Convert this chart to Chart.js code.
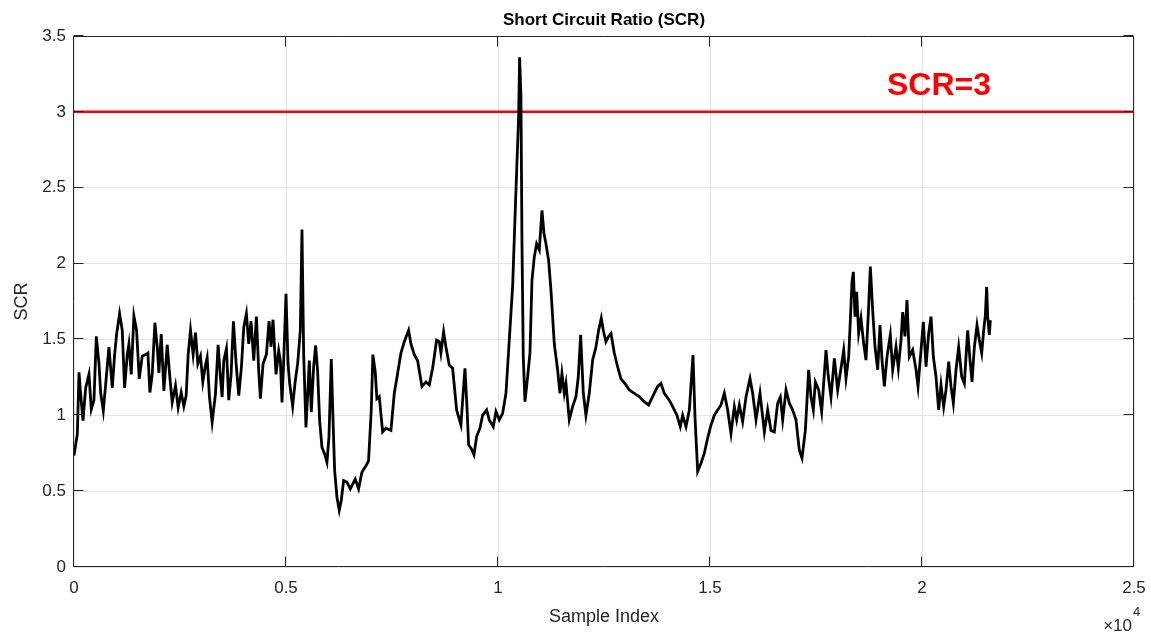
<!DOCTYPE html>
<html>
<head>
<meta charset="utf-8">
<title>Short Circuit Ratio (SCR)</title>
<script src="https://cdn.jsdelivr.net/npm/chart.js@4.4.1/dist/chart.umd.min.js"></script>
<style>
  html, body { margin: 0; padding: 0; background: #fff; }
  #wrap { width: 1151px; height: 633px; position: relative; }
</style>
</head>
<body>
<div id="wrap"><canvas id="scr"></canvas></div>
<script>
// sample index (x) and short circuit ratio (y)
const sampleIndex = [
    0, 79, 118, 157, 212, 275, 353, 408, 471, 526, 589, 628, 691, 746, 824, 903, 958, 1005, 1075, 1138,
    1193, 1256, 1295, 1350, 1413, 1476, 1539, 1609, 1688, 1743, 1790, 1845, 1908, 1963, 2002, 2057, 2120, 2198, 2261, 2316,
    2394, 2457, 2528, 2591, 2645, 2693, 2748, 2810, 2865, 2920, 2983, 3038, 3093, 3140, 3195, 3258, 3336, 3399, 3454, 3493,
    3533, 3595, 3650, 3705, 3760, 3823, 3886, 3949, 4004, 4066, 4121, 4176, 4239, 4302, 4357, 4396, 4459, 4537, 4600, 4647,
    4694, 4765, 4828, 4867, 4906, 4946, 5000, 5048, 5087, 5157, 5220, 5275, 5338, 5377, 5417, 5471, 5519, 5550, 5597, 5652,
    5699, 5746, 5793, 5848, 5911, 5966, 6013, 6068, 6107, 6147, 6202, 6256, 6304, 6359, 6437, 6516, 6633, 6712, 6790, 6892,
    6947, 7010, 7049, 7104, 7144,
    7200, 7279, 7357, 7475, 7554, 7632, 7711, 7790, 7892, 7947, 8026, 8104, 8206, 8301, 8379, 8458, 8552, 8615, 8654, 8717,
    8772, 8851, 8930, 9024, 9126, 9166, 9221, 9268, 9307, 9370, 9433, 9496, 9574, 9637, 9732, 9794, 9889, 9952, 10030, 10109,
    10188, 10266, 10345, 10423, 10486, 10510, 10541, 10565, 10596, 10636, 10699, 10754, 10801, 10856, 10911, 10974, 11037, 11084, 11131, 11194,
    11249, 11328, 11406, 11461, 11508, 11563, 11603, 11681, 11760, 11839, 11894, 11949, 12012, 12074, 12153, 12232, 12310, 12373, 12436, 12483,
    12546, 12609, 12664, 12743, 12821, 12900, 13018, 13097, 13214, 13332, 13450, 13552, 13647, 13765, 13843, 13922, 14040, 14158, 14221, 14299,
    14355, 14434, 14513, 14599, 14646, 14709, 14788, 14866, 14945, 15024, 15102, 15181, 15259, 15338, 15417, 15495, 15574, 15629, 15692, 15770,
    15849, 15943, 16006, 16085, 16179, 16282, 16360, 16439, 16517, 16596, 16659, 16714, 16793, 16871, 16950, 17028, 17107, 17170, 17249, 17327,
    17382, 17437, 17484, 17563, 17634, 17736, 17791, 17854, 17933, 18011, 18090, 18153, 18208, 18271, 18310, 18349, 18381, 18420, 18459, 18506,
    18561, 18624, 18679, 18734, 18782, 18837, 18892, 18955, 19010, 19057, 19112, 19175, 19253, 19308, 19387, 19442, 19505, 19544, 19599, 19646,
    19701, 19780, 19859, 19906, 19977, 20032, 20095, 20157, 20213, 20268, 20330, 20393, 20448, 20511, 20566, 20629, 20684, 20739, 20802, 20865,
    20936, 20999, 21077, 21132, 21180, 21235, 21297, 21352, 21408, 21455, 21494, 21525, 21549, 21588, 21612
];
const scrValues = [
    0.735, 0.877, 1.283, 1.14, 0.965, 1.18, 1.27, 1.04, 1.10, 1.52, 1.34, 1.15, 1.03, 1.20, 1.45, 1.18, 1.40, 1.535, 1.67, 1.56,
    1.18, 1.40, 1.47, 1.27, 1.655, 1.56, 1.24, 1.39, 1.40, 1.41, 1.15, 1.27, 1.61, 1.45, 1.28, 1.535, 1.16, 1.465, 1.25, 1.085,
    1.195, 1.05, 1.15, 1.06, 1.13, 1.40, 1.56, 1.40, 1.545, 1.34, 1.39, 1.22, 1.32, 1.38, 1.12, 0.955, 1.14, 1.465, 1.25, 1.12,
    1.36, 1.44, 1.10, 1.27, 1.62, 1.34, 1.13, 1.32, 1.58, 1.67, 1.47, 1.62, 1.36, 1.65, 1.29, 1.11, 1.34, 1.40, 1.62, 1.45,
    1.63, 1.27, 1.425, 1.36, 1.085, 1.36, 1.80, 1.34, 1.21, 1.06, 1.23, 1.34, 1.56, 2.225, 1.40, 0.92, 1.18, 1.36, 1.02, 1.32,
    1.46, 1.29, 0.965, 0.79, 0.745, 0.69, 0.855, 1.37, 0.99, 0.636, 0.46, 0.373, 0.44, 0.57, 0.56, 0.515, 0.58, 0.515, 0.625, 0.67,
    0.70, 1.03, 1.40, 1.29, 1.11,
    1.123, 0.89, 0.915, 0.90, 1.145, 1.276, 1.41, 1.485, 1.56, 1.47, 1.40, 1.36, 1.19, 1.22, 1.20, 1.31, 1.495, 1.485, 1.41, 1.55,
    1.45, 1.33, 1.31, 1.035, 0.936, 1.10, 1.31, 1.057, 0.805, 0.78, 0.74, 0.86, 0.915, 1.00, 1.035, 0.97, 0.925, 1.025, 0.97, 1.013,
    1.145, 1.496, 1.85, 2.48, 2.965, 3.36, 3.10, 2.15, 1.386, 1.09, 1.254, 1.41, 1.89, 2.044, 2.13, 2.09, 2.35, 2.20, 2.13, 2.02,
    1.825, 1.47, 1.30, 1.145, 1.276, 1.145, 1.21, 0.97, 1.057, 1.123, 1.254, 1.53, 1.145, 1.00, 1.145, 1.364, 1.45, 1.56, 1.64, 1.56,
    1.485, 1.52, 1.54, 1.41, 1.32, 1.24, 1.20, 1.167, 1.145, 1.123, 1.09, 1.068, 1.123, 1.19, 1.21, 1.145, 1.10, 1.035, 1.00, 0.925,
    1.00, 0.925, 1.035, 1.397, 0.99, 0.63, 0.684, 0.75, 0.85, 0.936, 1.00, 1.035, 1.068, 1.145, 1.035, 0.88, 1.057, 0.97, 1.068, 0.958,
    1.12, 1.243, 1.145, 0.97, 1.145, 0.89, 1.035, 0.90, 0.89, 1.08, 1.12, 0.97, 1.167, 1.08, 1.035, 0.97, 0.77, 0.717, 0.90, 1.30,
    1.12, 1.035, 1.22, 1.167, 1.024, 1.43, 1.254, 1.12, 1.375, 1.167, 1.31, 1.43, 1.243, 1.386, 1.627, 1.88, 1.945, 1.65, 1.814, 1.54,
    1.64, 1.474, 1.364, 1.67, 1.98, 1.69, 1.45, 1.30, 1.594, 1.364, 1.19, 1.386, 1.53, 1.30, 1.45, 1.31, 1.496, 1.68, 1.52, 1.76,
    1.386, 1.43, 1.30, 1.19, 1.43, 1.616, 1.32, 1.54, 1.65, 1.386, 1.254, 1.035, 1.20, 1.057, 1.167, 1.353, 1.19, 1.08, 1.30, 1.45,
    1.254, 1.21, 1.56, 1.364, 1.22, 1.45, 1.594, 1.496, 1.41, 1.56, 1.66, 1.846, 1.65, 1.53, 1.627
];

const xTicks = [0, 5000, 10000, 15000, 20000, 25000];
const yTicks = [0, 0.5, 1, 1.5, 2, 2.5, 3, 3.5];
const limitX = [0, 25000];   // threshold line SCR = 3
const limitY = [3, 3];

const title = "Short Circuit Ratio (SCR)";
const xLabel = "Sample Index";
const yLabel = "SCR";
const limitLabel = "SCR=3";

const FONT = '"Liberation Sans", Arial, Helvetica, sans-serif';
const AXIS = '#262626';

// MATLAB-style box, inward ticks and all the text
const axesBox = {
    id: 'axesBox',
    afterDraw(chart) {
        const { ctx, chartArea: a, scales: { x, y } } = chart;
        const L = Math.round(a.left) - 0.5, R = Math.round(a.right) - 0.5;
        const T = Math.round(a.top) + 0.5, B = Math.round(a.bottom) - 0.5;
        ctx.save();
        ctx.strokeStyle = AXIS;
        ctx.lineWidth = 1;
        ctx.beginPath();
        ctx.rect(L, T, R - L, B - T);
        xTicks.forEach(t => {
            const px = Math.round(x.getPixelForValue(t)) - 0.5;
            ctx.moveTo(px, B); ctx.lineTo(px, B - 10);
            ctx.moveTo(px, T); ctx.lineTo(px, T + 10);
        });
        yTicks.forEach(t => {
            const py = Math.round(y.getPixelForValue(t)) - 0.5;
            ctx.moveTo(L, py); ctx.lineTo(L + 10, py);
            ctx.moveTo(R, py); ctx.lineTo(R - 10, py);
        });
        ctx.stroke();

        const cx = (a.left + a.right) / 2;
        ctx.fillStyle = '#000';
        ctx.textAlign = 'center';
        ctx.textBaseline = 'middle';
        ctx.font = 'bold 17px ' + FONT;
        ctx.fillText(title, cx, 20);

        ctx.fillStyle = AXIS;
        ctx.font = '18px ' + FONT;
        ctx.fillText(xLabel, cx, 617);

        // x10^4 exponent
        ctx.textAlign = 'right';
        ctx.font = '17px ' + FONT;
        ctx.fillText('\u00d710', 1132, 626);
        ctx.textAlign = 'left';
        ctx.font = '13px ' + FONT;
        ctx.fillText('4', 1133, 612);

        // y label, rotated
        ctx.save();
        ctx.translate(27, (a.top + a.bottom) / 2);
        ctx.rotate(-Math.PI / 2);
        ctx.textAlign = 'center';
        ctx.textBaseline = 'alphabetic';
        ctx.font = '18px ' + FONT;
        ctx.fillText(yLabel, 0, 0);
        ctx.restore();

        // threshold annotation
        ctx.fillStyle = '#ff0000';
        ctx.textAlign = 'center';
        ctx.textBaseline = 'alphabetic';
        ctx.font = 'bold 32px ' + FONT;
        ctx.fillText(limitLabel, x.getPixelForValue(20400), y.getPixelForValue(3) - 17);
        ctx.restore();
    }
};

const tickFont = { family: FONT, size: 17 };

new Chart(document.getElementById('scr'), {
    type: 'line',
    data: {
        datasets: [
            {
                label: yLabel,
                data: sampleIndex.map((s, i) => ({ x: s, y: scrValues[i] })),
                borderColor: '#000000',
                borderWidth: 2.8,
                pointRadius: 0,
                tension: 0
            },
            {
                label: limitLabel,
                data: limitX.map((s, i) => ({ x: s, y: limitY[i] })),
                borderColor: '#ff0000',
                borderWidth: 2.5,
                pointRadius: 0
            }
        ]
    },
    options: {
        responsive: true,
        maintainAspectRatio: false,
        animation: false,
        devicePixelRatio: 1,
        layout: { padding: { top: 36, right: 17, left: 0, bottom: 0 } },
        plugins: {
            legend: { display: false },
            title: { display: false },
            tooltip: { enabled: false }
        },
        scales: {
            x: {
                type: 'linear',
                min: 0,
                max: 25000,
                afterBuildTicks: s => { s.ticks = xTicks.map(v => ({ value: v })); },
                afterFit: s => {
                    s.height = 66;
                    s.paddingLeft = 0;
                    s.paddingRight = 0;
                },
                grid: { color: '#e3e3e3', drawTicks: false },
                border: { display: false },
                ticks: {
                    padding: 11,
                    maxRotation: 0,
                    autoSkip: false,
                    color: AXIS,
                    font: tickFont,
                    callback: v => String(v / 10000)
                }
            },
            y: {
                min: 0,
                max: 3.5,
                afterBuildTicks: s => { s.ticks = yTicks.map(v => ({ value: v })); },
                afterFit: s => {
                    s.width = 74;
                    s.paddingTop = 0;
                    s.paddingBottom = 0;
                },
                grid: { color: '#e3e3e3', drawTicks: false },
                border: { display: false },
                ticks: {
                    padding: 8,
                    color: AXIS,
                    font: tickFont,
                    callback: v => String(v)
                }
            }
        }
    },
    plugins: [axesBox]
});
</script>
</body>
</html>
